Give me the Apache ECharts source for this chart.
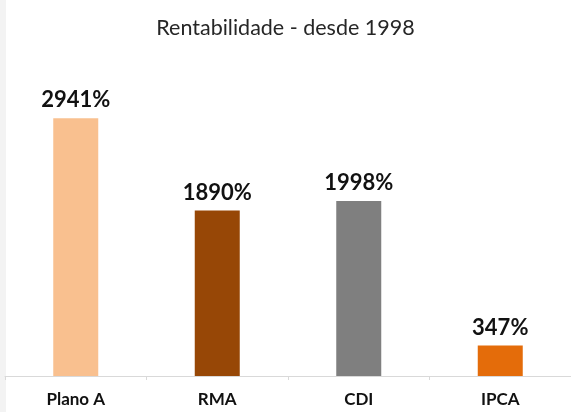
<!DOCTYPE html>
<html><head><meta charset="utf-8">
<script src="https://cdn.jsdelivr.net/npm/echarts@6/dist/echarts.min.js"></script>
<style>html,body{margin:0;padding:0;background:#fff;}#c{width:571px;height:412px;}</style>
</head><body><div id="c"></div>
<script>
var categories = ['Plano A', 'RMA', 'CDI', 'IPCA'];
var values = [2941, 1890, 1998, 347];
var colors = ['#F9C08F', '#974706', '#7F7F7F', '#E46C0A'];
var titleText = 'Rentabilidade - desde 1998';

var chart = echarts.init(document.getElementById('c'), null, {renderer: 'canvas'});
chart.setOption({
  animation: false,
  backgroundColor: '#ffffff',
  title: {
    text: titleText, left: 'center', top: 12,
    textStyle: {fontFamily: 'Lato', fontWeight: 'normal', fontSize: 21.5, color: '#262626'}
  },
  graphic: [{type: 'rect', left: 0, top: 0, shape: {width: 6, height: 412}, style: {fill: '#f3f3f3'}, silent: true}],
  grid: {left: 5, width: 570, top: 113.2, bottom: 36},
  xAxis: {
    type: 'category', data: categories,
    axisLine: {lineStyle: {color: '#d9d9d9', width: 1}},
    axisTick: {show: true, length: 4, lineStyle: {color: '#d9d9d9'}},
    axisLabel: {margin: 15, fontFamily: 'Lato', fontWeight: 'bold', fontSize: 17, color: '#111111'}
  },
  yAxis: {type: 'value', min: 0, max: 3000, show: false, splitLine: {show: false}},
  series: [{
    type: 'bar', barWidth: 45,
    data: values.map(function (v, i) { return {value: v, itemStyle: {color: colors[i]}}; }),
    label: {
      show: true, position: 'top', distance: 7,
      formatter: function (p) { return p.value + '%'; },
      fontFamily: 'Lato', fontWeight: 'bold', fontSize: 22, color: '#111111'
    }
  }]
});
</script></body></html>
